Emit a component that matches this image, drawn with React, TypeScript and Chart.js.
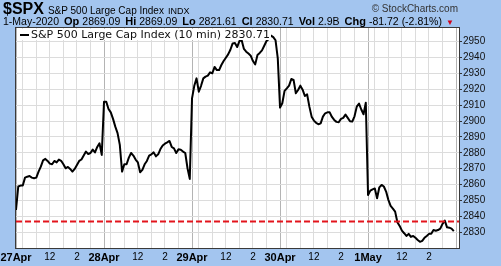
import React, { useEffect, useRef } from 'react';
import { Chart, registerables } from 'chart.js';

Chart.register(...registerables);

// ---- data ----
const DAY_LABELS = ['27Apr', '28Apr', '29Apr', '30Apr', '1May'];
const BARS_PER_DAY = 39; // 10-minute bars, 9:30 -> 16:00
const HOUR_OFFSETS = [0, 3, 9, 15, 21, 27, 33]; // 9:30, 10, 11, 12, 13, 14, 15
const HOUR_LABELS: Record<number, string> = { 15: '12', 27: '2' };
const Y_TICKS = [2830, 2840, 2850, 2860, 2870, 2880, 2890, 2900, 2910, 2920, 2930, 2940, 2950];
const Y_MIN = 2820.1;
const Y_MAX = 2958.6;
const PREV_CLOSE = 2836.74;
const SERIES_LABEL = 'S&P 500 Large Cap Index (10 min) 2830.71';

const DAY1 = [
  2844.1, 2858.8, 2859.4, 2859.4, 2864.4, 2865.0, 2865.4, 2864.4, 2864.0, 2864.4,
  2868.2, 2871.3, 2875.3, 2876.2, 2874.9, 2873.2, 2872.8, 2874.9, 2874.0, 2875.8,
  2875.0, 2872.8, 2870.3, 2871.1, 2869.9, 2868.2, 2869.9, 2872.4, 2874.9, 2875.8,
  2878.3, 2880.8, 2879.3, 2879.9, 2882.0, 2880.3, 2883.7, 2886.0, 2878.7,
];
const DAY2 = [
  2912.2, 2912.2, 2907.6, 2905.5, 2901.4, 2896.5, 2892.4, 2885.0, 2868.2, 2872.8,
  2872.8, 2877.0, 2879.9, 2878.3, 2875.8, 2874.0, 2867.8, 2869.3, 2872.8, 2874.9,
  2878.3, 2879.1, 2880.3, 2877.8, 2879.1, 2882.4, 2884.6, 2885.8, 2886.6, 2887.5,
  2883.7, 2882.8, 2879.9, 2882.2, 2882.0, 2880.8, 2879.9, 2870.3, 2863.6,
];
const DAY3 = [
  2914.3, 2922.2, 2926.9, 2918.5, 2922.2, 2926.9, 2928.0, 2928.6, 2930.7, 2930.1,
  2934.1, 2932.1, 2932.1, 2935.3, 2937.8, 2939.9, 2942.0, 2944.9, 2948.9, 2949.1,
  2946.6, 2950.4, 2950.9, 2945.4, 2943.7, 2942.5, 2941.2, 2937.8, 2935.7, 2941.6,
  2942.9, 2944.5, 2947.4, 2950.4, 2951.7, 2953.8, 2952.9, 2950.9, 2939.5,
];
const DAY4 = [
  2908.5, 2911.2, 2919.0, 2920.6, 2922.3, 2926.5, 2925.9, 2917.5, 2919.6, 2922.3,
  2919.8, 2915.8, 2916.8, 2909.1, 2902.8, 2900.3, 2898.9, 2898.0, 2898.6, 2902.8,
  2904.9, 2905.5, 2905.5, 2902.6, 2900.7, 2899.5, 2899.3, 2901.4, 2902.0, 2904.1,
  2902.0, 2899.9, 2899.7, 2903.0, 2909.1, 2911.0, 2907.3, 2904.3, 2911.5,
];
const DAY5 = [
  2853.5, 2856.2, 2857.0, 2857.6, 2851.4, 2858.3, 2859.8, 2858.8, 2855.6, 2850.4,
  2846.6, 2844.9, 2843.0, 2836.3, 2834.0, 2831.0, 2829.4, 2827.7, 2829.0, 2827.1,
  2827.7, 2826.5, 2825.2, 2824.0, 2824.6, 2826.5, 2827.7, 2829.0, 2829.0, 2831.4,
  2831.0, 2831.4, 2832.3, 2835.3, 2837.3, 2833.1, 2832.9, 2832.3, 2830.7,
];
const DAYS = [DAY1, DAY2, DAY3, DAY4, DAY5];
const X_MAX = 196.3;

const FONT = '"Liberation Sans", Arial, sans-serif';

export default function App() {
  const canvasRef = useRef<HTMLCanvasElement | null>(null);

  useEffect(() => {
    document.body.style.margin = '0';
    const canvas = canvasRef.current;
    if (!canvas) return;

    const points: { x: number; y: number }[] = [];
    DAYS.forEach((day, d) => {
      day.forEach((v, i) => points.push({ x: d * BARS_PER_DAY + i, y: v }));
    });

    const xTicks: number[] = [];
    DAY_LABELS.forEach((_, d) => {
      HOUR_OFFSETS.forEach((o) => xTicks.push(d * BARS_PER_DAY + o));
    });
    xTicks.push(DAY_LABELS.length * BARS_PER_DAY);

    const frame = {
      id: 'frame',
      beforeDraw(chart: any) {
        const { ctx, chartArea: a } = chart;
        ctx.save();
        ctx.fillStyle = '#ffffff';
        ctx.fillRect(a.left, a.top, a.right - a.left, a.bottom - a.top);
        ctx.restore();
      },
      afterDraw(chart: any) {
        const { ctx, chartArea: a } = chart;
        ctx.save();
        ctx.strokeStyle = '#3a3a3a';
        ctx.lineWidth = 1;
        ctx.strokeRect(Math.round(a.left) - 0.5, Math.round(a.top) - 0.5, Math.round(a.right - a.left) + 1, Math.round(a.bottom - a.top) + 1);
        ctx.restore();
      },
    };

    const chart = new Chart(canvas, {
      type: 'line',
      data: {
        datasets: [
          {
            label: 'prev close',
            data: [
              { x: 0, y: PREV_CLOSE },
              { x: X_MAX, y: PREV_CLOSE },
            ],
            borderColor: '#e3141c',
            borderWidth: 2,
            borderDash: [6, 3],
            pointRadius: 0,
            order: 0,
          },
          {
            label: SERIES_LABEL,
            data: points,
            borderColor: '#000000',
            borderWidth: 2,
            pointRadius: 0,
            tension: 0,
            borderJoinStyle: 'round',
            order: 1,
          },
        ],
      },
      plugins: [frame],
      options: {
        animation: false,
        responsive: false,
        devicePixelRatio: 1,
        layout: { padding: { left: 16, top: 28, right: 0, bottom: 0 } },
        plugins: { legend: { display: false }, tooltip: { enabled: false } },
        scales: {
          x: {
            type: 'linear',
            min: 0,
            max: X_MAX,
            border: { display: false },
            afterBuildTicks(scale: any) {
              scale.ticks = xTicks.map((v) => ({ value: v }));
            },
            afterFit(scale: any) {
              scale.height = 18;
              scale.paddingLeft = 0;
              scale.paddingRight = 0;
            },
            grid: {
              drawTicks: false,
              color: (ctx: any) => (ctx.tick && ctx.tick.value % BARS_PER_DAY === 0 ? '#b4b4b4' : '#dcdcdc'),
              lineWidth: 1,
            },
            ticks: {
              autoSkip: false,
              maxRotation: 0,
              padding: 3,
              color: '#000',
              font: (ctx: any) => {
                const v = ctx.tick ? ctx.tick.value : 0;
                return v % BARS_PER_DAY === 0
                  ? { family: FONT, size: 11, weight: 'bold' }
                  : { family: FONT, size: 10 };
              },
              callback: (value: any) => {
                const v = Number(value);
                const d = Math.floor(v / BARS_PER_DAY);
                const o = v - d * BARS_PER_DAY;
                if (o === 0) return DAY_LABELS[d] ?? '';
                return HOUR_LABELS[o] ?? '';
              },
            },
          },
          y: {
            type: 'linear',
            position: 'right',
            min: Y_MIN,
            max: Y_MAX,
            border: { display: false },
            afterBuildTicks(scale: any) {
              scale.ticks = Y_TICKS.map((v) => ({ value: v }));
            },
            afterFit(scale: any) {
              scale.width = 42;
            },
            grid: {
              color: '#dcdcdc',
              tickColor: '#333',
              tickLength: 3,
              drawTicks: true,
            },
            ticks: {
              padding: 1,
              color: '#111',
              font: { family: FONT, size: 10 },
              callback: (v: any) => String(v),
            },
          },
        },
      },
    } as any);

    return () => chart.destroy();
  }, []);

  const bold = { fontWeight: 'bold' as const, fontSize: 11, marginLeft: 5 };
  const num = { fontSize: 10.5, marginLeft: 3 };

  return (
    <div
      style={{
        position: 'relative',
        width: 501,
        height: 266,
        background: '#a3c5ef',
        fontFamily: FONT,
        color: '#000',
        overflow: 'hidden',
      }}
    >
      <canvas ref={canvasRef} width={501} height={266} style={{ position: 'absolute', left: 0, top: 0, width: 501, height: 266 }} />
      <div style={{ position: 'absolute', left: 3, top: 0, display: 'flex', alignItems: 'baseline', whiteSpace: 'nowrap', lineHeight: '18px' }}>
        <span style={{ fontWeight: 'bold', fontSize: 16 }}>$SPX</span>
        <span style={{ fontSize: 10, marginLeft: 4 }}>S&amp;P 500 Large Cap Index</span>
        <span style={{ fontSize: 9, marginLeft: 4 }}>INDX</span>
      </div>
      <div style={{ position: 'absolute', right: 43, top: 2, fontSize: 10, color: '#333', whiteSpace: 'nowrap', lineHeight: '13px' }}>
        © StockCharts.com
      </div>
      <div style={{ position: 'absolute', left: 3, top: 14, display: 'flex', alignItems: 'baseline', whiteSpace: 'nowrap', lineHeight: '14px' }}>
        <span style={{ fontSize: 10.5 }}>1-May-2020</span>
        <span style={bold}>Op</span>
        <span style={num}>2869.09</span>
        <span style={bold}>Hi</span>
        <span style={num}>2869.09</span>
        <span style={bold}>Lo</span>
        <span style={num}>2821.61</span>
        <span style={bold}>Cl</span>
        <span style={num}>2830.71</span>
        <span style={bold}>Vol</span>
        <span style={num}>2.9B</span>
        <span style={bold}>Chg</span>
        <span style={num}>-81.72 (-2.81%)</span>
        <span style={{ fontSize: 8, marginLeft: 4, color: '#d0021b' }}>▼</span>
      </div>
      <div
        style={{
          position: 'absolute',
          left: 17,
          top: 29,
          width: 254,
          height: 11,
          background: '#ffffff',
        }}
      >
        <div style={{ position: 'absolute', left: 3, top: 5, width: 9, height: 2, background: '#000' }} />
        <span
          style={{
            position: 'absolute',
            left: 14,
            top: -1,
            fontFamily: '"DejaVu Sans", Verdana, sans-serif',
            fontSize: 11,
            lineHeight: '13px',
            whiteSpace: 'nowrap',
            color: '#111',
          }}
        >
          {SERIES_LABEL}
        </span>
      </div>
    </div>
  );
}
